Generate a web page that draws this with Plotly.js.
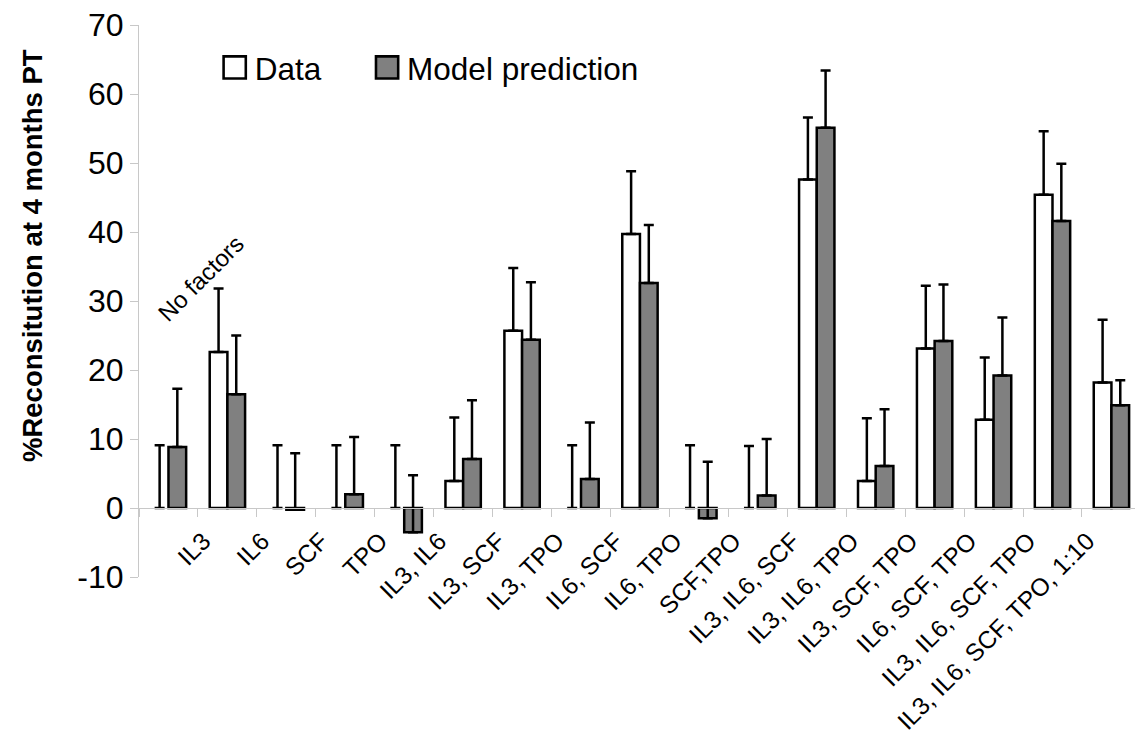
<!DOCTYPE html>
<html>
<head>
<meta charset="utf-8">
<script src="https://cdn.plot.ly/plotly-3.0.1.min.js"></script>
<style>
html, body { margin: 0; padding: 0; background: #ffffff; }
#chart { width: 1135px; height: 737px; }
</style>
</head>
<body>
<div id="chart"></div>
<script>
// Categories (factor combinations)
var categories = ["No factors", "IL3", "IL6", "SCF", "TPO", "IL3, IL6", "IL3, SCF", "IL3, TPO",
  "IL6, SCF", "IL6, TPO", "SCF,TPO", "IL3, IL6, SCF", "IL3, IL6, TPO", "IL3, SCF, TPO",
  "IL6, SCF, TPO", "IL3, IL6, SCF, TPO", "IL3, IL6, SCF, TPO, 1:10"];
// Tick labels (first category is labelled separately above its bars)
var tickLabels = ["", "IL3", "IL6", "SCF", "TPO", "IL3, IL6", "IL3, SCF", "IL3, TPO",
  "IL6, SCF", "IL6, TPO", "SCF,TPO", "IL3, IL6, SCF", "IL3, IL6, TPO", "IL3, SCF, TPO",
  "IL6, SCF, TPO", "IL3, IL6, SCF, TPO", "IL3, IL6, SCF, TPO, 1:10"];

// Data series
var dataValues = [0, 22.6, 0, 0, 0, 3.9, 25.7, 0, 39.7, 0, 0, 47.6, 3.9, 23.1, 12.8, 45.4, 18.2];
var dataErrors = [9.1, 9.2, 9.1, 9.1, 9.1, 9.2, 9.1, 9.1, 9.1, 9.1, 9.0, 9.0, 9.1, 9.1, 9.0, 9.2, 9.1];

// Model prediction series
var modelValues = [8.85, 16.5, -0.25, 2.0, -3.5, 7.1, 24.4, 4.2, 32.6, -1.5, 1.8, 55.1, 6.1, 24.2, 19.2, 41.6, 14.9];
var modelErrors = [8.45, 8.5, 8.2, 8.3, 8.25, 8.5, 8.3, 8.2, 8.4, 8.2, 8.2, 8.3, 8.2, 8.2, 8.4, 8.3, 3.6];

var yTickValues = [-10, 0, 10, 20, 30, 40, 50, 60, 70];

function zeros(n) { var a = []; for (var i = 0; i < n; i++) a.push(0); return a; }
// no outline on bars of zero height (Excel draws nothing there)
function outlineWidths(vals) { return vals.map(function (v) { return v === 0 ? 0 : 2.5; }); }

var traceData = {
  type: "bar",
  name: "Data",
  legend: "legend",
  x: categories,
  y: dataValues,
  marker: { color: "#ffffff", line: { color: "#000000", width: outlineWidths(dataValues) } },
  error_y: { type: "data", symmetric: false, array: dataErrors, arrayminus: zeros(dataErrors.length),
             color: "#000000", thickness: 2.5, width: 5 },
  hoverinfo: "x+y"
};
var traceModel = {
  type: "bar",
  name: "Model prediction",
  legend: "legend2",
  x: categories,
  y: modelValues,
  marker: { color: "#808080", line: { color: "#000000", width: outlineWidths(modelValues) } },
  error_y: { type: "data", symmetric: false, array: modelErrors, arrayminus: zeros(modelErrors.length),
             color: "#000000", thickness: 2.5, width: 5 },
  hoverinfo: "x+y"
};

var font = "Liberation Sans, Arial, sans-serif";
var legendFont = { family: font, size: 31.5, color: "#000000" };

var layout = {
  width: 1135,
  height: 737,
  margin: { l: 139, r: 0, t: 25, b: 160, pad: 0 },
  paper_bgcolor: "#ffffff",
  plot_bgcolor: "#ffffff",
  barmode: "group",
  bargap: 0.4,
  bargroupgap: 0,
  showlegend: true,
  legend: {
    orientation: "h", x: 0.076, xanchor: "left", y: 0.923, yanchor: "middle",
    font: legendFont, bgcolor: "rgba(0,0,0,0)", borderwidth: 0
  },
  legend2: {
    orientation: "h", x: 0.229, xanchor: "left", y: 0.923, yanchor: "middle",
    font: legendFont, bgcolor: "rgba(0,0,0,0)", borderwidth: 0
  },
  xaxis: {
    type: "category",
    categoryorder: "array",
    categoryarray: categories,
    tickvals: categories,
    ticktext: tickLabels,
    range: [-0.5, 16.4],
    anchor: "free",
    position: 0.125,
    showline: true,
    linecolor: "#c8c8c8",
    linewidth: 1,
    ticks: "outside",
    tickson: "boundaries",
    ticklen: 8,
    tickcolor: "#c8c8c8",
    tickangle: -45,
    tickfont: { family: font, size: 24.5, color: "#000000" },
    ticklabelshift: -24,
    ticklabelstandoff: 8,
    showgrid: false,
    zeroline: false,
    fixedrange: true
  },
  yaxis: {
    range: [-10, 70],
    tickvals: yTickValues,
    ticktext: yTickValues.map(String),
    showline: true,
    linecolor: "#c8c8c8",
    linewidth: 1,
    ticks: "outside",
    ticklen: 8,
    tickcolor: "#c8c8c8",
    tickfont: { family: font, size: 32, color: "#000000" },
    showgrid: false,
    zeroline: false,
    fixedrange: true
  },
  annotations: [
    {
      x: categories[0], y: 33.3, xref: "x", yref: "y",
      text: "No factors", showarrow: false, textangle: -45,
      xshift: 32,
      font: { family: font, size: 24, color: "#000000" }
    },
    {
      // y-axis title, placed as in the reference (offset above the axis centre)
      x: 0, xref: "paper", xanchor: "center",
      y: 0.5, yref: "paper", yanchor: "middle",
      text: "<b>%Reconsitution at 4 months PT</b>", showarrow: false, textangle: -90,
      font: { family: font, size: 27.5, color: "#000000" }
    }
  ]
};
// y title position: pixel centre (33, 256) converted to paper fractions
layout.annotations[1].x = (33 - layout.margin.l) / (layout.width - layout.margin.l - layout.margin.r);
layout.annotations[1].y = ((layout.height - layout.margin.b) - 256) / (layout.height - layout.margin.t - layout.margin.b);

Plotly.newPlot("chart", [traceData, traceModel], layout, { displayModeBar: false, staticPlot: true }).then(function () {
  // enlarge the legend swatches to match the reference and give them a visible outline
  var pts = document.querySelectorAll(".legendpoints path");
  pts.forEach(function (p) {
    var t = p.getAttribute("transform") || "";
    p.setAttribute("transform", t + " scale(1.85)");
    p.style.stroke = "#000000";
    p.style.strokeWidth = "1.4px";
    p.style.strokeOpacity = "1";
  });
});
</script>
</body>
</html>
